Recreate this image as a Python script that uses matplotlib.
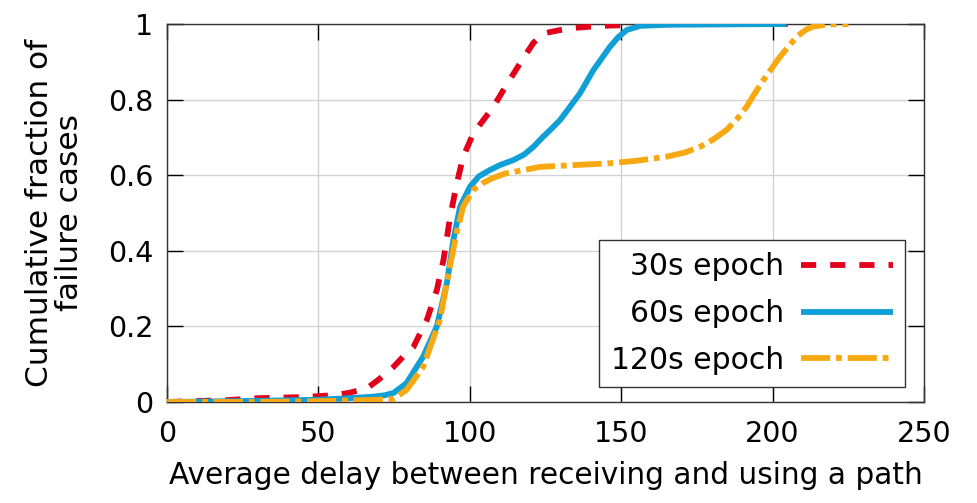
# CDF of delay between receiving and using a path, per epoch length
import numpy as np
import matplotlib.pyplot as plt

# 30s epoch
x30 = [0, 20, 30, 45, 55, 60, 66, 70, 74.8, 78, 81.4, 85.8, 89.1, 91.3, 93.5, 95.7, 97.8,
       101.2, 107.8, 112.2, 117.7, 121, 124.3, 129.8, 135, 143, 155, 170, 205]
y30 = [0, 0.005, 0.01, 0.013, 0.018, 0.024, 0.036, 0.06, 0.093, 0.12, 0.146, 0.217, 0.296, 0.376, 0.49, 0.578, 0.649,
       0.711, 0.781, 0.84, 0.91, 0.95, 0.975, 0.984, 0.99, 0.995, 0.998, 1.0, 1.0]

# 60s epoch
x60 = [0, 30, 50, 60, 68, 72, 74.8, 79.1, 84.6, 89.1, 92.4, 94.6, 96.8, 100.1, 103, 106.7, 110, 114.4, 118,
       121, 124, 127.6, 129.8, 133, 136.4, 140.8, 146.3, 149, 151.8, 156.2, 165, 185, 204.6]
y60 = [0, 0.003, 0.006, 0.01, 0.014, 0.018, 0.024, 0.05, 0.12, 0.2, 0.314, 0.43, 0.517, 0.57, 0.597, 0.614, 0.627, 0.64, 0.655,
       0.675, 0.70, 0.728, 0.746, 0.78, 0.817, 0.878, 0.94, 0.965, 0.984, 0.995, 0.998, 0.999, 1.0]

# 120s epoch
x120 = [0, 30, 50, 60, 70, 74.8, 79.1, 84.6, 90.1, 93.4, 95.6, 97.8, 101.1, 104, 107.7, 112, 118.7, 123.2, 135,
        145.2, 155, 165, 171, 176, 180.5, 184.8, 188, 191.4, 194, 197, 202.4, 207.9, 211, 213.4, 218, 225]
y120 = [0, 0.0, 0.002, 0.004, 0.006, 0.008, 0.032, 0.093, 0.217, 0.358, 0.446, 0.517, 0.561, 0.578, 0.593, 0.605, 0.615, 0.622, 0.627,
        0.631, 0.638, 0.649, 0.66, 0.675, 0.695, 0.72, 0.746, 0.781, 0.815, 0.852, 0.913, 0.966, 0.985, 0.993, 0.999, 1.0]

labels = ["30s epoch", "60s epoch", "120s epoch"]
red, blue, orange = "#e3001b", "#119fd7", "#f8a911"

plt.rcParams['font.family'] = ['DejaVu Sans']
fig = plt.figure(figsize=(9.78, 5.03), dpi=100)
ax = fig.add_axes([0.1708, 0.2008, 0.774, 0.7515])

lw = 4.2
ax.plot(x30, y30, color=red, lw=lw, dashes=(2.6, 2.4), dash_capstyle='butt', label=labels[0], zorder=3)
ax.plot(x60, y60, color=blue, lw=lw, solid_capstyle='butt', label=labels[1], zorder=4)
ax.plot(x120, y120, color=orange, lw=lw, dashes=(5, 1, 1, 1), dash_capstyle='butt', label=labels[2], zorder=5)

ax.set_xlim(0, 250)
ax.set_ylim(0, 1)
ax.set_xticks([0, 50, 100, 150, 200, 250])
ax.set_yticks([0, 0.2, 0.4, 0.6, 0.8, 1])
ax.set_yticklabels(["0", "0.2", "0.4", "0.6", "0.8", "1"])
ax.grid(True, color="#d4d4d4", lw=1)
ax.set_axisbelow(True)
ax.tick_params(direction='in', length=11.5, width=1, top=True, right=True, labelsize=20.5)
ax.tick_params(axis='x', pad=13)
ax.tick_params(axis='y', pad=10)
for s in ax.spines.values():
    s.set_linewidth(1)
    s.set_color("#333333")

ax.set_xlabel("Average delay between receiving and using a path", fontsize=21.3, labelpad=9)
ax.set_ylabel("Cumulative fraction of\nfailure cases", fontsize=22.5, labelpad=17, linespacing=1.05)

leg = ax.legend(loc='lower right', bbox_to_anchor=(0.975, 0.04), borderaxespad=0, fontsize=21.5,
                markerfirst=False, handlelength=3.1, handletextpad=0.55, labelspacing=0.6, borderpad=0.4,
                fancybox=False, framealpha=1, edgecolor="#333333")
leg.get_frame().set_linewidth(1)

fig.savefig("out.png", dpi=100)
